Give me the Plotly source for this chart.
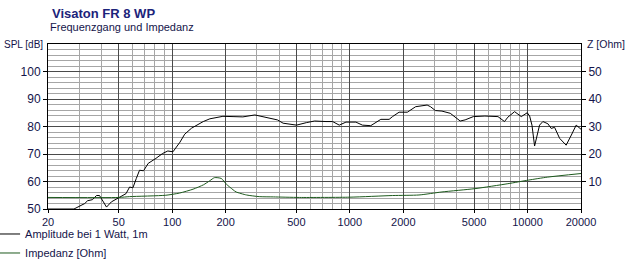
import plotly.graph_objects as go

# ---- data ----
spl_freq = [20, 28, 32.2, 33.4, 35.6, 37.5, 39.0, 42.7, 45.5, 49.4, 55, 57.6, 60.1, 62.8, 65.5, 69,
            73.3, 81, 88.4, 94.5, 101, 110.6, 117.6, 128.6, 149.6, 163, 193, 220, 250, 292, 338,
            391, 421, 501, 569, 633, 734, 800, 872, 951, 1081, 1177, 1311, 1400, 1494, 1664, 1738,
            1893, 2106, 2346, 2723, 2843, 3030, 3299, 3675, 4179, 4454, 4955, 5755, 6818, 7424,
            7752, 8457, 9220, 9966, 10280, 10593, 10960, 11340, 11690, 12200, 13020, 13590, 14200,
            15160, 16500, 17650, 18790, 20000]
spl_db = [50, 50, 52, 53, 53.4, 54.9, 54.9, 50.7, 52.6, 53.8, 55.6, 58, 57.7, 61.1, 64.1, 63.9,
          66.6, 68.4, 70.2, 71.1, 70.8, 74.3, 77.2, 79.4, 81.8, 82.8, 83.7, 83.6, 83.5, 84.2, 83.3,
          82.4, 81.2, 80.5, 81.4, 82, 81.8, 81.8, 80.5, 81.6, 81.6, 80.5, 80.3, 81.4, 82.6, 82.6, 83.6,
          85.2, 85.2, 87.2, 87.8, 87.2, 85.8, 85.6, 84.8, 82, 82.4, 83.6, 83.8, 83.6, 81.8,
          83.4, 85.4, 83.6, 85.0, 83.8, 80.5, 72.9, 76.9, 80.5, 81.8, 81, 79.3, 79.7,
          75.7, 73.2, 76.9, 80.5, 79]

imp_freq = [20, 50, 57.6, 92, 110, 131, 150, 163, 173, 189, 202, 220, 229, 262, 309, 371, 522,
            1000, 1740, 2450, 3300, 5060, 7750, 10100, 13000, 20000]
imp_ohm = [4.2, 4.2, 4.5, 5.0, 5.8, 7.2, 8.8, 10.3, 11.4, 11.1, 9.0, 7.0, 6.2, 5.1, 4.5, 4.4, 4.2,
           4.3, 4.9, 5.1, 6.2, 7.4, 9.2, 10.5, 11.6, 12.9]

x_ticks = [20, 50, 100, 200, 500, 1000, 2000, 5000, 10000, 20000]
x_minor = [30, 40, 60, 70, 80, 90, 300, 400, 600, 700, 800, 900,
           3000, 4000, 6000, 7000, 8000, 9000]
y_ticks = [50, 60, 70, 80, 90, 100]
y2_ticks = [10, 20, 30, 40, 50]

TXT = "#14144a"
MAJ = "#4a4a4a"
MIN = "#a6a6a6"
FONT = "Liberation Sans"

fig = go.Figure()
fig.add_trace(go.Scatter(x=spl_freq, y=spl_db, mode="lines", name="Amplitude bei 1 Watt, 1m",
                         line=dict(color="#000000", width=1)))
fig.add_trace(go.Scatter(x=imp_freq, y=imp_ohm, mode="lines", name="Impedanz [Ohm]", yaxis="y2",
                         line=dict(color="#1d5a1d", width=1, shape="spline", smoothing=0.6)))

fig.update_layout(
    width=629, height=273,
    margin=dict(l=48, r=48, t=44, b=64, autoexpand=False),
    paper_bgcolor="white", plot_bgcolor="white",
    font=dict(family=FONT, size=11, color=TXT),
    showlegend=True,
    legend=dict(xref="paper", yref="container", x=-0.118, y=0.196, xanchor="left", yanchor="top",
                bgcolor="rgba(0,0,0,0)", borderwidth=0, itemwidth=30,
                font=dict(family=FONT, size=11, color=TXT)),
    xaxis=dict(type="log", range=[1.30103, 4.30103], tickvals=x_ticks,
               ticktext=[str(v) for v in x_ticks], showgrid=True, gridcolor=MAJ, gridwidth=1,
               showline=True, linecolor="#000000", linewidth=1, mirror=True,
               ticks="outside", ticklen=3, tickcolor="#000000",
               minor=dict(tickvals=x_minor, showgrid=True, gridcolor=MIN, gridwidth=1, ticklen=0),
               zeroline=False, tickfont=dict(size=11, color=TXT)),
    yaxis=dict(range=[50, 110], tickvals=y_ticks, showgrid=True, gridcolor=MAJ, gridwidth=1,
               showline=True, linecolor="#000000", linewidth=1,
               ticks="outside", ticklen=4, tickcolor="#000000",
               minor=dict(dtick=2, showgrid=True, gridcolor=MIN, gridwidth=1, ticklen=0),
               zeroline=False, tickfont=dict(size=12, color=TXT)),
    yaxis2=dict(range=[0, 60], tickvals=y2_ticks, overlaying="y", side="right",
                showgrid=False, showline=True, linecolor="#000000", linewidth=1,
                ticks="outside", ticklen=4, tickcolor="#000000", zeroline=False,
                tickfont=dict(size=12, color=TXT)),
    annotations=[
        dict(text="<b>Visaton FR 8 WP</b>", xref="paper", yref="paper", x=0.003, y=1.0,
             xanchor="left", yanchor="bottom", yshift=21, showarrow=False,
             font=dict(family=FONT, size=13, color="#1c237a")),
        dict(text="Frequenzgang und Impedanz", xref="paper", yref="paper", x=0.0, y=1.0,
             xanchor="left", yanchor="bottom", yshift=9, showarrow=False,
             font=dict(family=FONT, size=11, color=TXT)),
        dict(text="SPL [dB]", xref="paper", yref="paper", x=0.0, y=1.0, xanchor="right",
             yanchor="middle", xshift=-3, showarrow=False, font=dict(family=FONT, size=10, color=TXT)),
        dict(text="Z [Ohm]", xref="paper", yref="paper", x=1.0, y=1.0, xanchor="left",
             yanchor="middle", xshift=4, showarrow=False, font=dict(family=FONT, size=10.5, color=TXT)),
    ],
)

fig.write_html("out.html")
